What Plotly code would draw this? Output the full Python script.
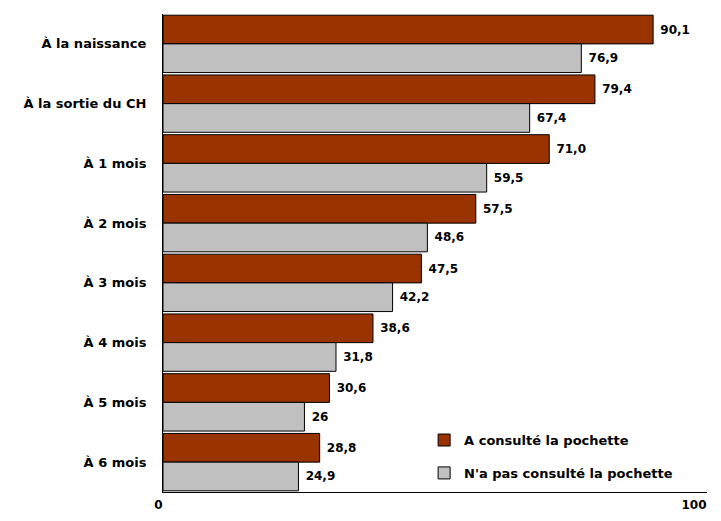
import plotly.graph_objects as go

categories = ["À la naissance", "À la sortie du CH", "À 1 mois", "À 2 mois",
              "À 3 mois", "À 4 mois", "À 5 mois", "À 6 mois"]
consulte = [90.1, 79.4, 71.0, 57.5, 47.5, 38.6, 30.6, 28.8]
consulte_labels = ["90,1", "79,4", "71,0", "57,5", "47,5", "38,6", "30,6", "28,8"]
non_consulte = [76.9, 67.4, 59.5, 48.6, 42.2, 31.8, 26, 24.9]
non_consulte_labels = ["76,9", "67,4", "59,5", "48,6", "42,2", "31,8", "26", "24,9"]
series_names = ["A consulté la pochette", "N'a pas consulté la pochette"]
x_ticks = [0, 100]

FONT = "DejaVu Sans"
txtfont = dict(family=FONT, size=12, color="black", weight="bold")

fig = go.Figure()
fig.add_trace(go.Bar(
    y=categories, x=consulte, orientation="h", name=series_names[0],
    marker=dict(color="#993300", line=dict(color="black", width=1)),
    text=consulte_labels, texttemplate=" %{text}", textposition="outside",
    textfont=txtfont, cliponaxis=False, legendgroup="a"))
fig.add_trace(go.Bar(
    y=categories, x=non_consulte, orientation="h", name=series_names[1],
    marker=dict(color="#C0C0C0", line=dict(color="black", width=1)),
    text=non_consulte_labels, texttemplate=" %{text}", textposition="outside",
    textfont=txtfont, cliponaxis=False, legendgroup="b"))

# page body has an 8px margin on every side; size the figure to fit inside
fig.update_layout(
    width=705, height=505,
    margin=dict(l=155, r=6, t=6, b=21, autoexpand=False),
    paper_bgcolor="white", plot_bgcolor="white",
    barmode="group", bargap=0.04, bargroupgap=0,
    showlegend=True,
    legend=dict(x=0.48, y=0.14, xanchor="left", yanchor="top",
                traceorder="grouped", tracegroupgap=13,
                font=dict(family=FONT, size=13, color="black", weight="bold"),
                bgcolor="rgba(0,0,0,0)", itemwidth=30),
    xaxis=dict(range=[0, 100], tickvals=x_ticks, ticktext=["0", "100"],
               showgrid=False, zeroline=False, showline=True,
               linecolor="black", linewidth=1, ticks="", automargin=False,
               ticklabelposition="outside left", ticklabeloverflow="allow",
               ticklabelstandoff=2,
               tickfont=dict(family=FONT, size=12, color="black", weight="bold")),
    yaxis=dict(autorange="reversed", showgrid=False, zeroline=False,
               showline=True, linecolor="black", linewidth=1, ticks="",
               ticklabelstandoff=13, automargin=False,
               tickfont=dict(family=FONT, size=13, color="black", weight="bold")),
)

fig.write_html("out.html")
